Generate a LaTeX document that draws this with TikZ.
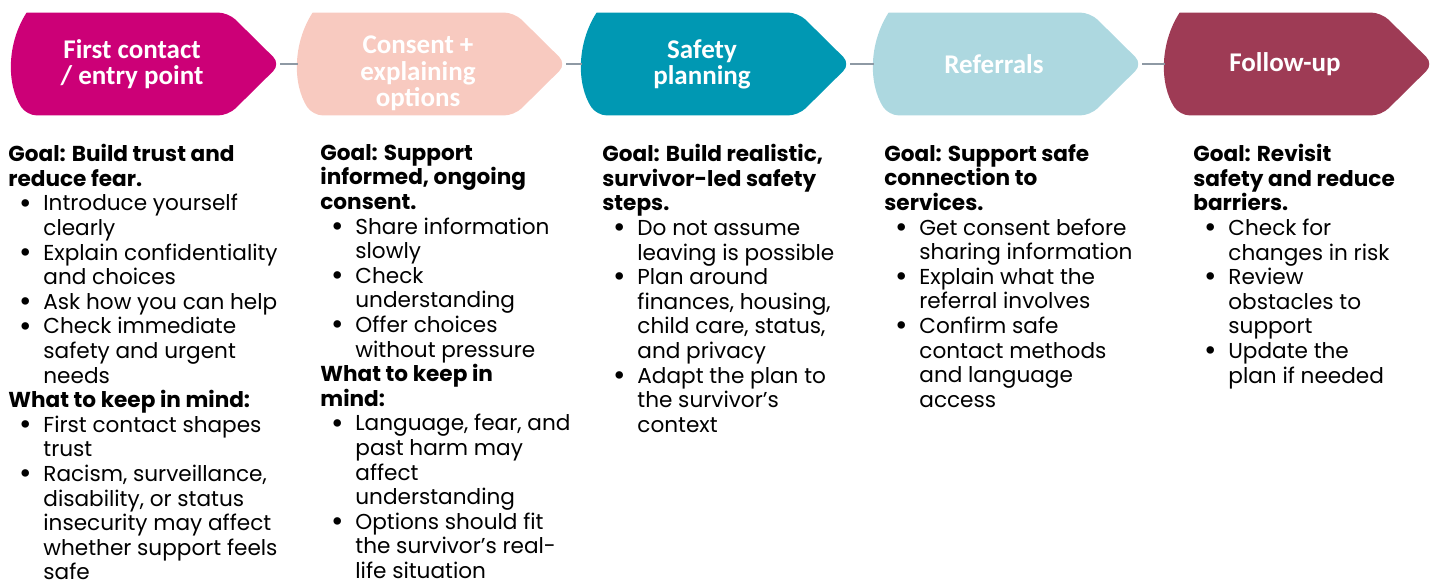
\documentclass[tikz,border=0pt]{standalone}
\usepackage{fontspec}
\setmainfont{Poppins}
\newfontfamily\stagefont{Carlito}
\usetikzlibrary{backgrounds}

\definecolor{contactpink}{HTML}{CC0077}
\definecolor{consentpink}{HTML}{F8CAC0}
\definecolor{safetyteal}{HTML}{0098B3}
\definecolor{referralblue}{HTML}{ADD8E0}
\definecolor{followmaroon}{HTML}{9E3B55}
\definecolor{linkgray}{HTML}{8E99A4}

% bullet and hanging indent for the lists
\newcommand{\dotmark}{\hspace*{5.5pt}\makebox[12pt][l]{\raisebox{-1.1pt}{\scalebox{1.4}{\textbullet}}}}
\newcommand{\cont}{\hspace*{17.5pt}}

% stage outline: curved left side, pointed right end
\newcommand{\stagefill}[2]{%
  \fill[#2] ([xshift=7.5pt]#1.north west) [rounded corners=5pt] -- ([xshift=-12pt]#1.north east)
    -- ([xshift=14pt]#1.east) -- ([xshift=-12pt]#1.south east) -- ([xshift=7.5pt]#1.south west) [sharp corners]
    .. controls ([xshift=-2.5pt,yshift=15.5pt]#1.south west) and ([xshift=-2.5pt,yshift=-15.5pt]#1.north west) .. cycle;}

\begin{document}
\begin{tikzpicture}[x=0.5pt, y=-0.5pt]

    \tikzstyle{stage} = [minimum width=120pt, minimum height=51pt, inner sep=0pt, align=center, text=white, font=\stagefont\bfseries\fontsize{13.5}{13}\selectfont]
    \tikzstyle{notes} = [anchor=north west, inner sep=0pt, align=left, font=\fontsize{10.8}{12.3}\selectfont]
    \tikzstyle{link} = [linkgray, line width=1pt]

    \useasboundingbox (0,0) rectangle (1440,585);

    \node (contact) [stage] at (132,64) {First contact\\/ entry point};
    \node (consent) [stage] at (418,64) {\raisebox{0pt}[\dimexpr\height+11pt][\depth]{\begin{tabular}{@{}c@{}}Consent +\\explaining\\options\end{tabular}}};
    \node (safety) [stage] at (702,64) {Safety\\planning};
    \node (referral) [stage] at (994,64) {Referrals};
    \node (followup) [stage] at (1285,64) {Follow-up};

    % Stage shapes
    \begin{scope}[on background layer]
        \stagefill{contact}{contactpink}
        \stagefill{consent}{consentpink}
        \stagefill{safety}{safetyteal}
        \stagefill{referral}{referralblue}
        \stagefill{followup}{followmaroon}
    \end{scope}

    % Links
    \draw [link] ([xshift=14pt]contact.east) -- (consent.west);
    \draw [link] ([xshift=14pt]consent.east) -- (safety.west);
    \draw [link] ([xshift=14pt]safety.east) -- (referral.west);
    \draw [link] ([xshift=14pt]referral.east) -- (followup.west);

    % Notes under each stage
    \node (contactnotes) [notes] at (8,144) {\textbf{Goal: Build trust and}\\
        \textbf{reduce fear.}\\
        \dotmark Introduce yourself\\
        \cont clearly\\
        \dotmark Explain confidentiality\\
        \cont and choices\\
        \dotmark Ask how you can help\\
        \dotmark Check immediate\\
        \cont safety and urgent\\
        \cont needs\\
        \textbf{What to keep in mind:}\\
        \dotmark First contact shapes\\
        \cont trust\\
        \dotmark Racism, surveillance,\\
        \cont disability, or status\\
        \cont insecurity may affect\\
        \cont whether support feels\\
        \cont safe};
    \node (consentnotes) [notes] at (320,144) {\textbf{Goal: Support}\\
        \textbf{informed, ongoing}\\
        \textbf{consent.}\\
        \dotmark Share information\\
        \cont slowly\\
        \dotmark Check\\
        \cont understanding\\
        \dotmark Offer choices\\
        \cont without pressure\\
        \textbf{What to keep in}\\
        \textbf{mind:}\\
        \dotmark Language, fear, and\\
        \cont past harm may\\
        \cont affect\\
        \cont understanding\\
        \dotmark Options should fit\\
        \cont the survivor’s real-\\
        \cont life situation};
    \node (safetynotes) [notes] at (602,144) {\textbf{Goal: Build realistic,}\\
        \textbf{survivor-led safety}\\
        \textbf{steps.}\\
        \dotmark Do not assume\\
        \cont leaving is possible\\
        \dotmark Plan around\\
        \cont finances, housing,\\
        \cont child care, status,\\
        \cont and privacy\\
        \dotmark Adapt the plan to\\
        \cont the survivor’s\\
        \cont context};
    \node (referralnotes) [notes] at (884,144) {\textbf{Goal: Support safe}\\
        \textbf{connection to}\\
        \textbf{services.}\\
        \dotmark Get consent before\\
        \cont sharing information\\
        \dotmark Explain what the\\
        \cont referral involves\\
        \dotmark Confirm safe\\
        \cont contact methods\\
        \cont and language\\
        \cont access};
    \node (followupnotes) [notes] at (1193,144) {\textbf{Goal: Revisit}\\
        \textbf{safety and reduce}\\
        \textbf{barriers.}\\
        \dotmark Check for\\
        \cont changes in risk\\
        \dotmark Review\\
        \cont obstacles to\\
        \cont support\\
        \dotmark Update the\\
        \cont plan if needed};

\end{tikzpicture}
\end{document}
